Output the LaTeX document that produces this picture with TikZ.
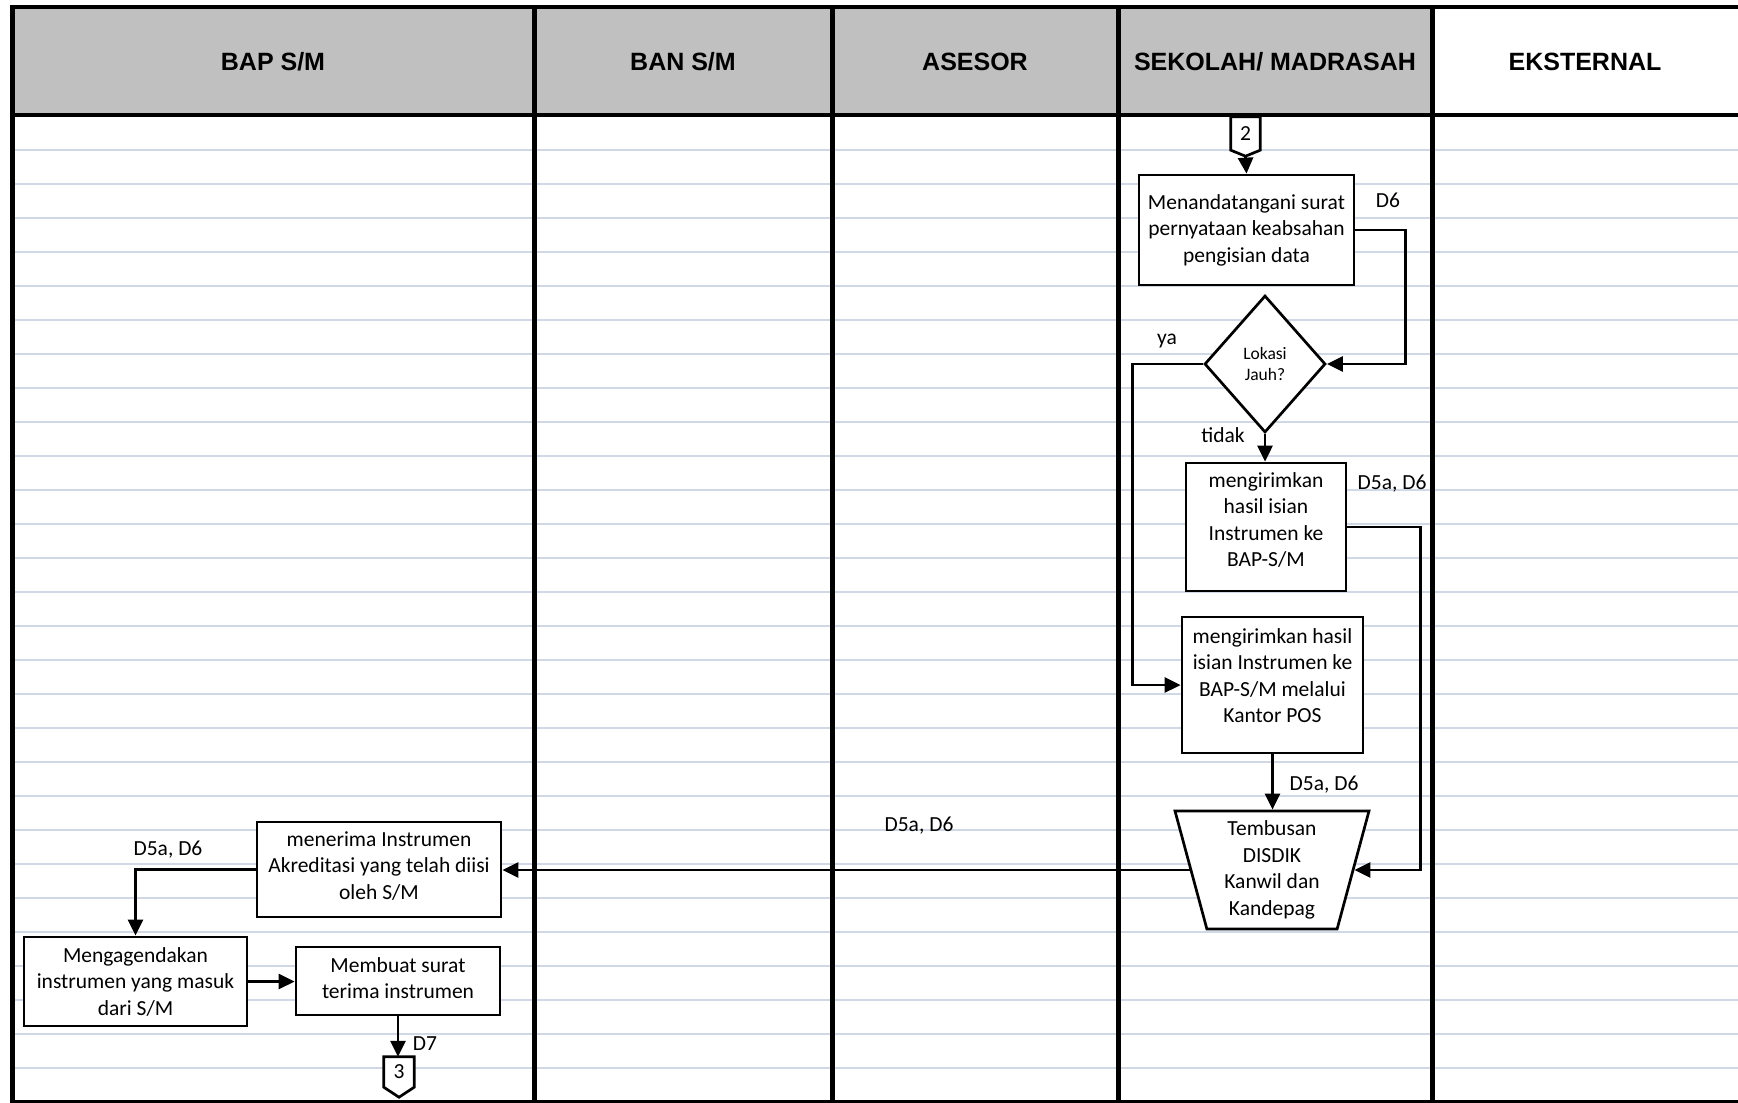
\documentclass[tikz,border=0pt]{standalone}
\usepackage{fontspec}
\setmainfont{Carlito}
\newfontfamily\headfont{Liberation Sans}
\usetikzlibrary{arrows.meta,shapes.geometric,calc}
\definecolor{gridcol}{RGB}{208,215,229}
\definecolor{headgray}{RGB}{192,192,192}

\begin{document}
\begin{tikzpicture}[x=1pt,y=-1pt,
  box/.style={draw=black, line width=2.7pt, fill=white, inner sep=0pt, align=center,
              font=\fontsize{21.5}{26.5}\selectfont},
  txt/.style={align=center, font=\fontsize{21.5}{26.5}\selectfont, inner sep=0pt},
  note/.style={font=\fontsize{21.5}{26.5}\selectfont, inner sep=0pt},
  flow/.style={line width=2.8pt, -{Triangle[length=16pt,width=15pt]}},
  head/.style={font=\headfont\bfseries\fontsize{25}{30}\selectfont, inner sep=0pt},
  lane/.style={line width=5pt},
  offpage/.style={inner sep=0pt, font=\fontsize{21.5}{26.5}\selectfont},
]
\useasboundingbox (0,0) rectangle (1738,1103);
\fill[white] (0,0) rectangle (1738,1103);

% header band
\fill[headgray] (12,7) rectangle (1432,115);

% ruled rows
\foreach \k in {0,...,27}
  \draw[gridcol, line width=2pt] (12,150+34*\k) -- (1738,150+34*\k);

% frame and lane dividers
\draw[line width=4pt] (10,7) -- (1738,7);
\draw[line width=4pt] (10,115) -- (1738,115);
\foreach \x in {12,534,832,1118,1432}
  \draw[lane] (\x,5) -- (\x,1103);
\draw[line width=3pt] (12,1101.5) -- (1738,1101.5);

% lane titles
\node[head] (hbap) at (273,62) {BAP S/M};
\node[head] (hban) at (683,62) {BAN S/M};
\node[head] (hase) at (975,62) {ASESOR};
\node[head] (hsek) at (1275,62) {SEKOLAH/ MADRASAH};
\node[head] (heks) at (1585,62) {EKSTERNAL};

% off-page connector 2
\node[offpage, minimum width=29pt, minimum height=33pt] (c2) at (1245.5,133.5) {};
\coordinate (c2tip) at ($(c2.south)+(0,6)$);
\draw[line width=2.7pt, fill=white, line join=miter]
  (c2.south west) -- (c2.north west) -- (c2.north east) -- (c2.south east) -- (c2tip) -- cycle;
\node[offpage] (c2t) at (c2) {2};

% process steps in the school lane
\node[box, minimum width=215pt, minimum height=110pt] (b1) at (1246.5,230)
  {Menandatangani surat\\pernyataan keabsahan\\pengisian data};
\node[draw=black, line width=2.7pt, fill=white, diamond, inner sep=0pt,
      minimum width=121pt, minimum height=137pt, align=center,
      font=\fontsize{17.5}{21.5}\selectfont] (dia) at (1265,364) {Lokasi\\Jauh?};
\node[box, minimum width=160pt, minimum height=128pt] (b2) at (1266,527) {};
\node[txt] (t2) at (1266,520) {mengirimkan\\hasil isian\\Instrumen ke\\BAP-S/M};
\node[box, minimum width=181pt, minimum height=136pt] (b3) at (1272.5,685) {};
\node[txt] (t3) at (1272.5,675.5) {mengirimkan hasil\\isian Instrumen ke\\BAP-S/M melalui\\Kantor POS};
\node[draw=black, line width=2.7pt, fill=white, trapezium,
      trapezium left angle=108, trapezium right angle=108,
      trapezium stretches body=true,
      minimum width=194pt, minimum height=118pt, inner sep=0pt, align=center,
      font=\fontsize{21.5}{26.5}\selectfont] (trap) at (1272,870)
  {Tembusan\\DISDIK\\Kanwil dan\\Kandepag};

% process steps in the BAP lane
\node[box, minimum width=244pt, minimum height=95pt] (rec) at (379,869.5) {};
\node[txt] (trec) at (379,866) {menerima Instrumen\\Akreditasi yang telah diisi\\oleh S/M};
\node[box, minimum width=223pt, minimum height=89pt] (agenda) at (135.5,981.5)
  {Mengagendakan\\instrumen yang masuk\\dari S/M};
\node[box, minimum width=204pt, minimum height=68pt] (surat) at (398,981) {};
\node[txt] (tsurat) at (398,978) {Membuat surat\\terima instrumen};

% off-page connector 3
\node[offpage, minimum width=30pt, minimum height=30pt] (c3) at (399,1072) {};
\coordinate (c3tip) at ($(c3.south)+(0,10)$);
\draw[line width=2.7pt, fill=white, line join=miter]
  (c3.south west) -- (c3.north west) -- (c3.north east) -- (c3.south east) -- (c3tip) -- cycle;
\node[offpage] (c3t) at (c3) {3};

% flow connectors
\draw[flow] (c2tip) -- (b1.north);
\draw[flow] (b1.east) -- ++(50,0) |- (dia.east);
\draw[flow] (dia.west) -- ++(-71,0) |- (b3.west);
\draw[flow] (dia.south) -- (dia.south |- b2.north);
\draw[flow] (b2.east) -- ++(73,0) |- (trap.east);
\draw[flow] (b3.south) -- (b3.south |- trap.north);
\draw[flow] (trap.west) -- (trap.west -| rec.east);
\draw[flow] (rec.west) -| (agenda.north);
\draw[flow] (agenda.east) -- (agenda.east -| surat.west);
\draw[flow] (surat.south) -- (surat.south |- c3.north);

% document references and decision labels
\node[note] (lD6) at (1388,200) {D6};
\node[note] (lya) at (1167,341) {ya};
\node[note] (ltidak) at (1223,435) {tidak};
\node[note] (lD5a) at (1392,484) {D5a, D6};
\node[note] (lD5b) at (1324,785) {D5a, D6};
\node[note] (lD5c) at (919,826) {D5a, D6};
\node[note] (lD5d) at (168,850) {D5a, D6};
\node[note] (lD7) at (425,1044) {D7};
\end{tikzpicture}
\end{document}
